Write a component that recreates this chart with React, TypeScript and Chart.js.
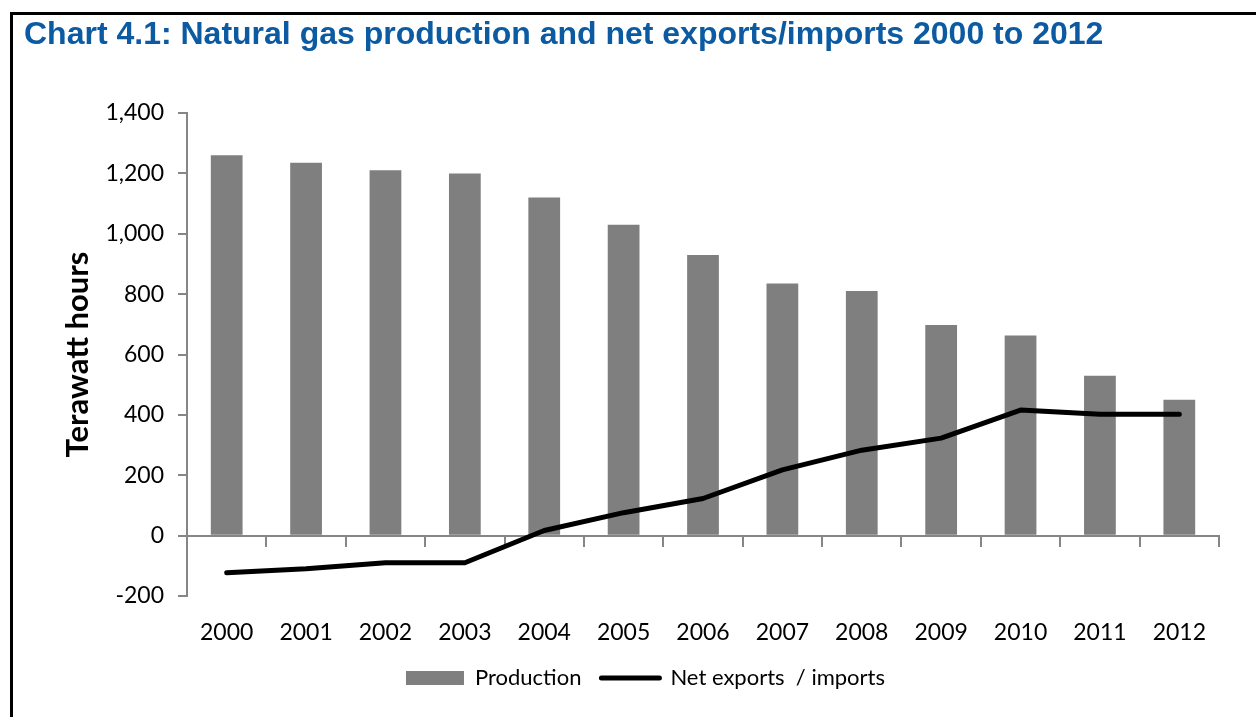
import React, { useEffect, useRef } from "react";
import { Chart, registerables } from "chart.js";

Chart.register(...registerables);

const years = ["2000", "2001", "2002", "2003", "2004", "2005", "2006", "2007", "2008", "2009", "2010", "2011", "2012"];
const production = [1260, 1235, 1210, 1200, 1120, 1030, 930, 835, 810, 698, 663, 530, 450];
const netExports = [-123, -110, -90, -90, 17, 76, 123, 218, 283, 323, 416, 402, 402];
const yTicks = [-200, 0, 200, 400, 600, 800, 1000, 1200, 1400];

const AXIS = "#868686";
const FONT = "Lato, 'DejaVu Sans', sans-serif";

export default function App() {
  const ref = useRef<HTMLCanvasElement | null>(null);

  useEffect(() => {
    if (!ref.current) return;
    const chart = new Chart(ref.current, {
      type: "bar",
      data: {
        labels: years,
        datasets: [
          {
            type: "bar",
            label: "Production",
            data: production,
            backgroundColor: "#7f7f7f",
            borderWidth: 0,
            barPercentage: 0.4,
            categoryPercentage: 1,
            order: 1,
            xAxisID: "x",
            yAxisID: "y",
          },
          {
            type: "line",
            label: "Net exports / imports",
            data: netExports,
            borderColor: "#000000",
            backgroundColor: "#000000",
            borderWidth: 5,
            borderCapStyle: "round",
            borderJoinStyle: "round",
            pointRadius: 0,
            tension: 0,
            order: 0,
            xAxisID: "x",
            yAxisID: "y",
          } as any,
        ],
      },
      options: {
        responsive: false,
        animation: false,
        layout: { padding: { left: 72, right: 37, top: 113, bottom: 18 } },
        plugins: {
          tooltip: { enabled: false },
          title: { display: false },
          legend: {
            display: true,
            position: "bottom",
            labels: {
              usePointStyle: true,
              pointStyleWidth: 58,
              boxHeight: 14,
              padding: 20,
              color: "#000",
              font: { family: FONT, size: 22 },
              generateLabels: () => [
                {
                  text: "Production",
                  fillStyle: "#7f7f7f",
                  strokeStyle: "#7f7f7f",
                  lineWidth: 0,
                  pointStyle: "rect",
                  hidden: false,
                  datasetIndex: 0,
                  fontColor: "#000",
                },
                {
                  text: "Net exports  / imports",
                  fillStyle: "#000",
                  strokeStyle: "#000",
                  lineWidth: 5,
                  lineCap: "round",
                  pointStyle: "line",
                  hidden: false,
                  datasetIndex: 1,
                  fontColor: "#000",
                },
              ],
            },
          },
        },
        scales: {
          x: {
            type: "category",
            position: "bottom",
            offset: true,
            grid: { display: false },
            border: { display: false },
            ticks: {
              color: "#000",
              padding: 15,
              maxRotation: 0,
              font: { family: FONT, size: 23 },
            },
            afterFit: (s: any) => {
              s.height = 51;
            },
          },
          x2: {
            type: "category",
            position: { y: 0 } as any,
            offset: true,
            grid: {
              display: true,
              offset: true,
              drawOnChartArea: false,
              drawTicks: true,
              tickLength: 10,
              color: AXIS,
              lineWidth: 2,
            },
            border: { display: true, color: AXIS, width: 2 },
            ticks: { display: false },
          },
          y: {
            type: "linear",
            position: "left",
            min: -200,
            max: 1400,
            afterBuildTicks: (s: any) => {
              s.ticks = yTicks.map((v) => ({ value: v }));
            },
            grid: {
              display: true,
              drawOnChartArea: false,
              drawTicks: true,
              tickLength: 9,
              color: AXIS,
              lineWidth: 2,
            },
            border: { display: true, color: AXIS, width: 2 },
            ticks: {
              color: "#000",
              padding: 14,
              font: { family: FONT, size: 23 },
              callback: (v: any) => Number(v).toLocaleString("en-US"),
            },
            title: {
              display: true,
              text: "Terawatt hours",
              color: "#000",
              font: { family: FONT, size: 31, weight: "bold" },
              padding: { top: -13, bottom: 0 },
            },
            afterFit: (s: any) => {
              s.width = 115;
            },
          },
        },
      } as any,
    });
    return () => chart.destroy();
  }, []);

  return (
    <div style={{ position: "fixed", left: 0, top: 0, width: 1256, height: 717, background: "#fff", overflow: "hidden" }}>
      <canvas ref={ref} width={1256} height={717} style={{ position: "absolute", left: 0, top: 0 }} />
      <div
        style={{
          position: "absolute",
          left: 10,
          top: 12,
          width: 1300,
          height: 800,
          borderTop: "3px solid #000",
          borderLeft: "3px solid #000",
          pointerEvents: "none",
        }}
      />
      <div
        style={{
          position: "absolute",
          left: 24,
          top: 15,
          fontFamily: "'Liberation Sans', Arial, sans-serif",
          fontWeight: "bold",
          fontSize: 32,
          lineHeight: "normal",
          color: "#0B5AA2",
          whiteSpace: "nowrap",
        }}
      >
        Chart 4.1: Natural gas production and net exports/imports 2000 to 2012
      </div>
    </div>
  );
}
